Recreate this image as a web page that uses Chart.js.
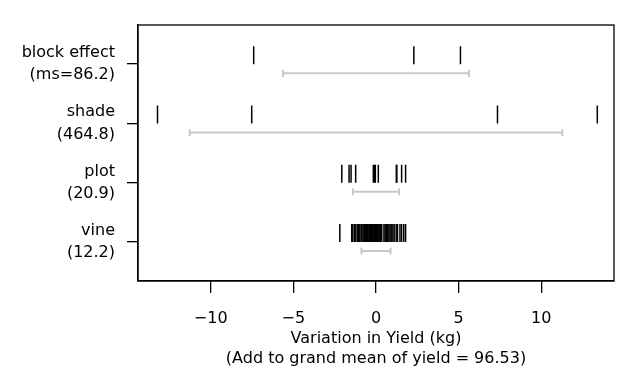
<!DOCTYPE html>
<html>
<head>
<meta charset="utf-8">
<script src="https://cdn.jsdelivr.net/npm/chart.js@4.4.0/dist/chart.umd.min.js"></script>
<style>
  body { margin: 0; background: #fff; }
  #wrap { width: 640px; height: 384px; }
</style>
</head>
<body>
<div id="wrap"><canvas id="chart"></canvas></div>
<script>
// strata, top to bottom
const strata = ['block effect', 'shade', 'plot', 'vine'];
const meanSquares = [86.2, 464.8, 20.9, 12.2];

// estimated effects (kg)
const blockEffects = [-7.40, 2.29, 5.11];
const shadeEffects = [-13.22, -7.52, 7.35, 13.39];
const plotEffects = [-2.07, -1.63, -1.51, -1.23, -0.16, -0.08, -0.04, 0.14, 1.23, 1.26, 1.55, 1.79];
const vineEffects = [
  -2.19, -1.47, -1.40, -1.30, -1.22, -1.12, -1.05, -0.98, -0.90, -0.85, -0.78, -0.72,
  -0.68, -0.62, -0.58, -0.52, -0.48, -0.42, -0.38, -0.33, -0.28, -0.22, -0.18, -0.12,
  -0.08, -0.02, 0.03, 0.08, 0.12, 0.18, 0.22, 0.27, 0.35, 0.48, 0.55, 0.62,
  0.70, 0.78, 0.85, 0.92, 1.02, 1.10, 1.22, 1.30, 1.45, 1.55, 1.68, 1.79
];
// half-width of the grey bar for each stratum
const barHalfWidths = [5.62, 11.27, 1.39, 0.88];

const xTicks = [-10, -5, 0, 5, 10];
const rowValues = [4, 3, 2, 1];

const effects = [blockEffects, shadeEffects, plotEffects, vineEffects];

const tickSets = effects.map((vals, i) => ({
  type: 'scatter',
  data: vals.map(v => ({ x: v, y: rowValues[i] + 0.15 })),
  pointStyle: 'line',
  rotation: 90,
  radius: 9,
  hoverRadius: 9,
  borderColor: '#000',
  borderWidth: 1.5,
}));

const barSets = barHalfWidths.map((h, i) => ({
  type: 'line',
  data: [{ x: -h, y: rowValues[i] - 0.155 }, { x: h, y: rowValues[i] - 0.155 }],
  borderColor: '#c8c8c8',
  borderWidth: 2,
  pointStyle: 'line',
  rotation: 90,
  radius: 3.5,
  pointBorderColor: '#c8c8c8',
  pointBorderWidth: 2,
}));

const frame = {
  id: 'frame',
  afterDraw(chart) {
    const { ctx, chartArea: a } = chart;
    ctx.save();
    ctx.strokeStyle = '#000';
    ctx.lineWidth = 1.3;
    ctx.strokeRect(a.left, a.top, a.right - a.left, a.bottom - a.top);
    ctx.restore();
  }
};

Chart.defaults.font.family = '"DejaVu Sans", sans-serif';
Chart.defaults.font.size = 16;
Chart.defaults.color = '#000';

new Chart(document.getElementById('chart'), {
  data: { datasets: [...barSets, ...tickSets] },
  options: {
    responsive: true,
    maintainAspectRatio: false,
    animation: false,
    layout: { padding: { top: 25, right: 26, bottom: 0, left: 0 } },
    plugins: { legend: { display: false }, tooltip: { enabled: false } },
    scales: {
      x: {
        type: 'linear',
        min: -14.4,
        max: 14.4,
        afterBuildTicks: s => { s.ticks = xTicks.map(v => ({ value: v })); },
        afterFit: s => { s.height = 103; s.paddingLeft = 0; s.paddingRight = 0; },
        ticks: {
          padding: 16,
          callback: v => (v < 0 ? '\u2212' + Math.abs(v) : String(v)),
        },
        grid: { drawOnChartArea: false, color: '#000', lineWidth: 1.3, tickLength: 12 },
        border: { color: '#000', width: 1.3 },
        title: {
          display: true,
          text: ['Variation in Yield (kg)', '(Add to grand mean of yield = 96.53)'],
          font: { size: 16, lineHeight: 1.2 },
          padding: { top: 0, bottom: 16 },
        },
      },
      y: {
        type: 'linear',
        min: 0.34,
        max: 4.66,
        afterBuildTicks: s => { s.ticks = rowValues.map(v => ({ value: v })); },
        afterFit: s => { s.width = 138; s.paddingTop = 0; s.paddingBottom = 0; },
        ticks: {
          padding: 12,
          font: { size: 16, lineHeight: 1.4 },
          callback: v => {
            const i = rowValues.indexOf(v);
            if (i < 0) return '';
            return [strata[i], i === 0 ? '(ms=' + meanSquares[i] + ')' : '(' + meanSquares[i] + ')'];
          },
        },
        grid: { drawOnChartArea: false, color: '#000', lineWidth: 1.3, tickLength: 11 },
        border: { color: '#000', width: 1.3 },
      },
    },
  },
  plugins: [frame],
});
</script>
</body>
</html>
